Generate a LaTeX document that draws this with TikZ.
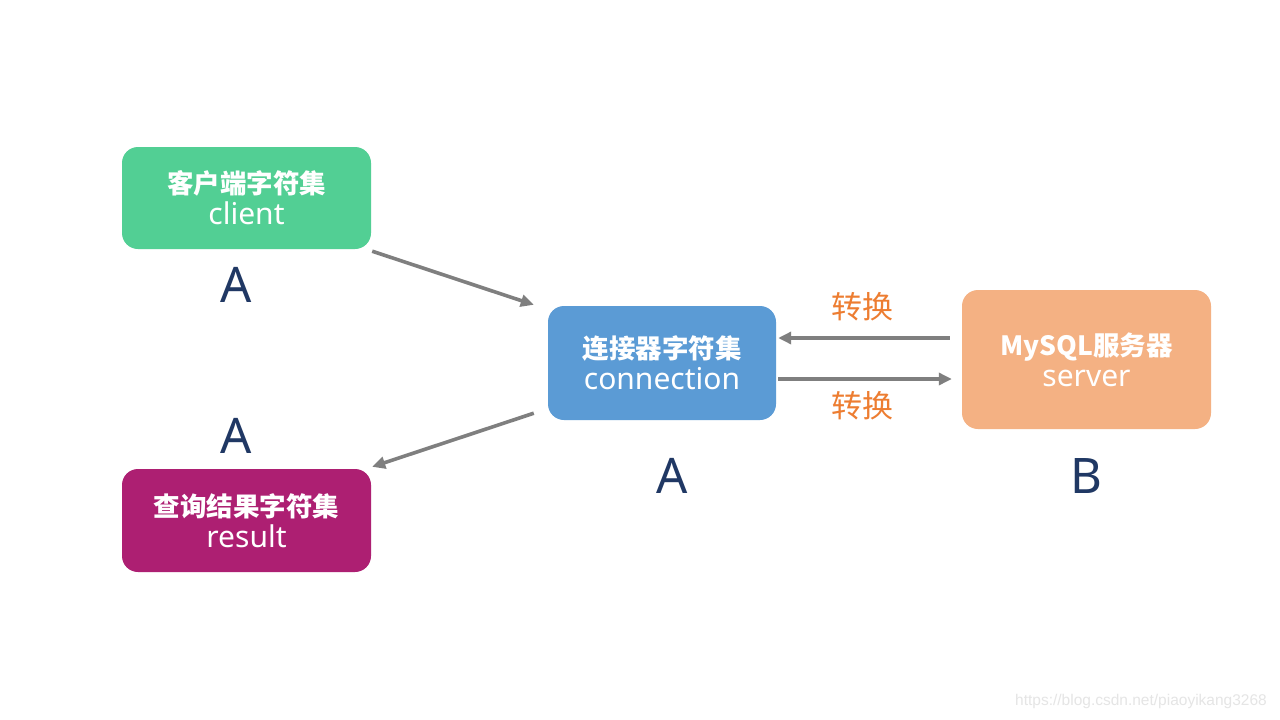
\documentclass[tikz,border=0pt]{standalone}
\usepackage{fontspec}
\newfontfamily\cjk{Noto Sans CJK SC}
\newfontfamily\lat{Noto Sans}
\newfontfamily\wmfont{Liberation Sans}
\usetikzlibrary{arrows.meta,calc}
\definecolor{cgreen}{HTML}{52CF94}
\definecolor{cmagenta}{HTML}{AD1F72}
\definecolor{cblue}{HTML}{5B9BD5}
\definecolor{corange}{HTML}{F4B183}
\definecolor{cnavy}{HTML}{203864}
\definecolor{clabel}{HTML}{ED7D31}
\definecolor{carrow}{HTML}{7F7F7F}
\tikzset{
  box/.style={rounded corners=16pt, inner sep=0pt, text=white, align=center, font=\lat\fontsize{30}{34}\selectfont},
  letter/.style={text=cnavy, font=\lat\fontsize{49}{56}\selectfont, inner sep=0pt},
  conv/.style={text=clabel, font=\cjk\fontsize{31}{34}\selectfont, inner sep=0pt},
  link/.style={draw=carrow, line width=3.6pt, -{Triangle[length=13pt,width=12pt]}},
}
\newcommand{\zh}[1]{{\cjk\bfseries\fontsize{26.5}{34}\selectfont #1}}
\begin{document}
\begin{tikzpicture}[x=1pt,y=-1pt]
\path[fill=white,use as bounding box] (0,0) rectangle (1280,720);
\node[box, fill=cgreen, minimum width=249pt, minimum height=102pt] (client) at (246.5,198) {\zh{客户端字符集}\\[-3pt]client};
\node[box, fill=cmagenta, minimum width=249pt, minimum height=103pt] (result) at (246.5,520.5) {\zh{查询结果字符集}\\[-3pt]result};
\node[box, fill=cblue, minimum width=228pt, minimum height=114pt] (conn) at (662,363) {\zh{连接器字符集}\\[-3pt]connection};
\node[box, fill=corange, minimum width=249pt, minimum height=139pt] (mysql) at (1086.5,359.5) {\zh{MySQL服务器}\\[-3pt]server};
\node[letter] (a1) at (236,285) {A};
\node[letter] (a2) at (236,436) {A};
\node[letter] (a3) at (672,476) {A};
\node[letter] (b1) at (1086,476) {B};
\node[conv] (t1) at (862,307) {转换};
\node[conv] (t2) at (862,406) {转换};
\node[text=black!10, font=\wmfont\fontsize{15.5}{16}\selectfont, inner sep=0pt] (wm) at (1141,701) {https://blog.csdn.net/piaoyikang3268};
\coordinate (c1s) at ($(client.south east)+(1,2)$);
\coordinate (c1e) at ($(conn.north west)+(-14,-1)$);
\coordinate (c2s) at ($(conn.south west)+(-14,-7)$);
\coordinate (c2e) at ($(result.north east)+(1,-2)$);
\coordinate (c3s) at ($(mysql.west)+(-12,-21.5)$);
\coordinate (c3e) at ($(conn.east)+(2,-25)$);
\coordinate (c4s) at ($(conn.east)+(2,16)$);
\coordinate (c4e) at ($(mysql.west)+(-10,19.5)$);
\draw[link] (c1s) -- (c1e);
\draw[link] (c2s) -- (c2e);
\draw[link] (c3s) -- (c3e);
\draw[link] (c4s) -- (c4e);
\end{tikzpicture}
\end{document}
